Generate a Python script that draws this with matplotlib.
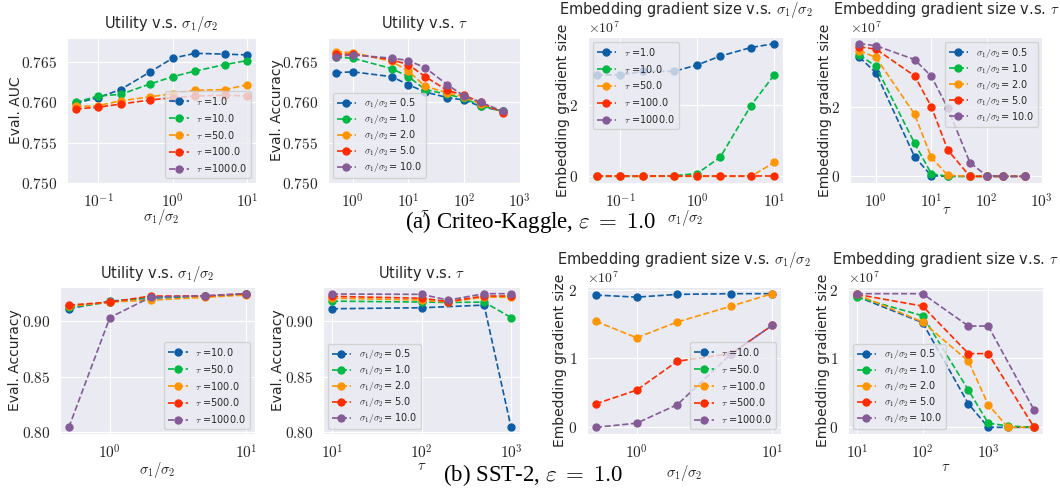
import matplotlib.pyplot as plt
import seaborn as sns

# style: seaborn darkgrid with computer-modern math for the tick labels
sns.set_style('darkgrid')
plt.rcParams['font.family'] = ['DejaVu Sans']
plt.rcParams['mathtext.fontset'] = 'cm'
plt.rcParams['axes.formatter.use_mathtext'] = True

colors = ['#0C5DA5', '#00B945', '#FF9500', '#FF2C00', '#845B97']

# ---------------- Criteo-Kaggle ----------------
criteo_ratio = [0.05, 0.1, 0.2, 0.5, 1, 2, 5, 10]
criteo_tau = [0.5, 1, 5, 10, 20, 50, 100, 200, 500]
criteo_tau_labels = ['1.0', '10.0', '50.0', '100.0', '1000.0']
ratio_labels = ['0.5', '1.0', '2.0', '5.0', '10.0']

# eval AUC vs sigma1/sigma2, one list per tau (tau=1000 not in view)
criteo_auc_tau1 = [0.7599, 0.7606, 0.7616, 0.7638, 0.7655, 0.7661, 0.7660, 0.7659]
criteo_auc_tau10 = [0.7600, 0.7608, 0.7610, 0.7623, 0.7632, 0.7639, 0.7647, 0.7652]
criteo_auc_tau50 = [0.7595, 0.7596, 0.7602, 0.7607, 0.7611, 0.7615, 0.7616, 0.7622]
criteo_auc_tau100 = [0.7592, 0.7594, 0.7598, 0.7603, 0.7606, 0.7608, 0.7609, 0.7608]
criteo_auc_tau1000 = []

# eval accuracy vs tau, one list per sigma1/sigma2
criteo_acc_r05 = [0.7637, 0.7638, 0.7632, 0.7622, 0.7613, 0.7606, 0.7603, 0.7595, 0.7589]
criteo_acc_r1 = [0.7656, 0.7655, 0.7642, 0.7632, 0.7616, 0.7610, 0.7605, 0.7596, 0.7589]
criteo_acc_r2 = [0.7663, 0.7662, 0.7651, 0.7639, 0.7620, 0.7612, 0.7607, 0.7598, 0.7588]
criteo_acc_r5 = [0.7660, 0.7660, 0.7653, 0.7647, 0.7632, 0.7615, 0.7609, 0.7600, 0.7587]
criteo_acc_r10 = [0.7657, 0.7659, 0.7655, 0.7652, 0.7643, 0.7622, 0.7608, 0.7600, 0.7589]

# embedding gradient size vs sigma1/sigma2
criteo_grad_tau1 = [2.85e7, 2.85e7, 2.95e7, 2.95e7, 3.13e7, 3.38e7, 3.62e7, 3.73e7]
criteo_grad_tau10 = [0.0, 0.0, 0.0, 0.02e7, 0.08e7, 0.54e7, 1.99e7, 2.85e7]
criteo_grad_tau50 = [0.0, 0.0, 0.0, 0.0, 0.0, 0.0, 0.0, 0.39e7]
criteo_grad_tau100 = [0.0, 0.0, 0.0, 0.0, 0.0, 0.0, 0.0, 0.0]
criteo_grad_tau1000 = []

# embedding gradient size vs tau
criteo_gt_r05 = [3.45e7, 3.00e7, 0.57e7, 0.02e7, 0.0, 0.0, 0.0, 0.0, 0.0]
criteo_gt_r1 = [3.52e7, 3.18e7, 0.96e7, 0.08e7, 0.0, 0.0, 0.0, 0.0, 0.0]
criteo_gt_r2 = [3.64e7, 3.44e7, 1.80e7, 0.55e7, 0.03e7, 0.0, 0.0, 0.0, 0.0]
criteo_gt_r5 = [3.75e7, 3.68e7, 2.91e7, 2.02e7, 0.76e7, 0.0, 0.0, 0.0, 0.0]
criteo_gt_r10 = [3.84e7, 3.78e7, 3.38e7, 2.90e7, 1.97e7, 0.40e7, 0.02e7, 0.0, 0.0]

# ---------------- SST-2 ----------------
sst_ratio = [0.5, 1, 2, 5, 10]
sst_tau_labels = ['10.0', '50.0', '100.0', '500.0', '1000.0']

sst_acc_tau10 = [0.9115, 0.9184, 0.9211, 0.9227, 0.9248]
sst_acc_tau50 = [0.9127, 0.9175, 0.9220, 0.9227, 0.9245]
sst_acc_tau100 = [0.9136, 0.9175, 0.9193, 0.9218, 0.9239]
sst_acc_tau500 = [0.9148, 0.9175, 0.9230, 0.9230, 0.9251]
sst_acc_tau1000 = [0.8045, 0.9036, 0.9220, 0.9233, 0.9251]

sst_tau_short = [10, 100, 500, 1000]
sst_tau = [10, 100, 200, 500, 1000]
sst_at_r05 = [0.9115, 0.9124, 0.9148, 0.8045]
sst_at_r1 = [0.9184, 0.9175, 0.9172, 0.9175, 0.9036]
sst_at_r2 = [0.9211, 0.9193, 0.9175, 0.9220, 0.9218]
sst_at_r5 = [0.9227, 0.9210, 0.9180, 0.9230, 0.9230]
sst_at_r10 = [0.9248, 0.9245, 0.9193, 0.9251, 0.9251]

sst_grad_tau10 = [1.92e7, 1.89e7, 1.93e7, 1.94e7, 1.94e7]
sst_grad_tau50 = []
sst_grad_tau100 = [1.54e7, 1.30e7, 1.53e7, 1.76e7, 1.94e7]
sst_grad_tau500 = [0.34e7, 0.54e7, 0.96e7, 1.07e7, 1.48e7]
sst_grad_tau1000 = [0.0, 0.06e7, 0.33e7, 1.07e7, 1.48e7]

sst_gtau_full = [10, 100, 500, 1000, 2000, 5000]
sst_gtau_part = [10, 100, 500, 1000, 5000]
sst_gt_r05 = [1.90e7, 1.52e7, 0.34e7, 0.0, 0.0, 0.0]
sst_gt_r1 = [1.89e7, 1.62e7, 0.54e7, 0.06e7, 0.02e7, 0.0]
sst_gt_r2 = [1.93e7, 1.53e7, 0.96e7, 0.33e7, 0.0, 0.0]
sst_gt_r5 = [1.93e7, 1.76e7, 1.07e7, 1.07e7, 0.0]
sst_gt_r10 = [1.94e7, 1.94e7, 1.47e7, 1.47e7, 0.25e7]

# decade ticks for the two tau panels of the top row
tau_ticks = [1, 10, 100, 1000]
tau_tick_labels = [r'$\mathdefault{10^{0}}$', r'$\mathdefault{10^{1}}$',
                   r'$\mathdefault{10^{2}}$', r'$\mathdefault{10^{3}}$']

W, H = 1060, 494
fig = plt.figure(figsize=(W / 100, H / 100), dpi=100)


def make_ax(left, top, right, bottom):
    # pixel box -> figure fraction
    return fig.add_axes([left / W, 1 - bottom / H, (right - left) / W, (bottom - top) / H])


def draw(ax, xs, ys, labels, prefix, loc, title, title_y, xlabel, ylabel, xl_y, yl_x, spacing):
    for x, y, lab, c in zip(xs, ys, labels, colors):
        ax.plot(x, y, 'o--', color=c, label=prefix + lab, markersize=5, linewidth=1.2)
    ax.set_xscale('log')
    ax.set_title(title, fontsize=10.5, y=title_y, pad=0)
    ax.set_xlabel(xlabel, fontsize=10.5)
    ax.set_ylabel(ylabel, fontsize=10)
    ax.xaxis.set_label_coords(0.5, xl_y)
    ax.yaxis.set_label_coords(yl_x, 0.5)
    ax.tick_params(labelsize=11, labelfontfamily='cmr10')
    off = ax.yaxis.get_offset_text()
    off.set_family('cmr10')
    off.set_horizontalalignment('left')
    off.set_x(0.0)
    ax.legend(loc=loc, fontsize=7, labelspacing=spacing)


def tau_axis(ax, lo, hi):
    # decade ticks; the last one (at the right edge) is written through the x-axis text transform
    ax.set_xlim(lo, hi)
    ax.set_xticks(tau_ticks, labels=tau_tick_labels[:-1] + [''])
    pad = plt.rcParams['xtick.major.pad'] + plt.rcParams['xtick.major.size']
    trans, va, ha = ax.get_xaxis_text1_transform(pad)
    ax.text(tau_ticks[-1], 0, tau_tick_labels[-1], transform=trans, va=va, ha=ha,
            fontsize=11, family='cmr10', color=plt.rcParams['xtick.color'], clip_on=False)


tau_pre = r'$\tau$ ='
ratio_pre = r'$\sigma_1/\sigma_2$= '
t_ratio = r'Utility v.s. $\sigma_1/\sigma_2$'
t_tau = r'Utility v.s. $\tau$'
g_ratio = r'Embedding gradient size v.s. $\sigma_1/\sigma_2$'
g_tau = r'Embedding gradient size v.s. $\tau$'
x_ratio = r'$\sigma_1/\sigma_2$'
x_tau = r'$\tau$'

# row 1
ax = make_ax(67, 38, 256, 183)
draw(ax, [criteo_ratio] * 4 + [[]],
     [criteo_auc_tau1, criteo_auc_tau10, criteo_auc_tau50, criteo_auc_tau100, criteo_auc_tau1000],
     criteo_tau_labels, tau_pre, 'lower right', t_ratio, 1.068, x_ratio, 'Eval. AUC',
     -0.166, -0.233, 0.5)
ax.set_ylim(0.750, 0.768)
ax.set_yticks([0.750, 0.755, 0.760, 0.765])

ax = make_ax(328, 38, 521, 183)
draw(ax, [criteo_tau] * 5,
     [criteo_acc_r05, criteo_acc_r1, criteo_acc_r2, criteo_acc_r5, criteo_acc_r10],
     ratio_labels, ratio_pre, 'lower left', t_tau, 1.068, x_tau, 'Eval. Accuracy',
     -0.15, -0.228, 0.2)
ax.set_ylim(0.750, 0.768)
ax.set_yticks([0.750, 0.755, 0.760, 0.765])
tau_axis(ax, 0.36, 1050)

ax = make_ax(588, 37, 783, 183)
draw(ax, [criteo_ratio] * 4 + [[]],
     [criteo_grad_tau1, criteo_grad_tau10, criteo_grad_tau50, criteo_grad_tau100, criteo_grad_tau1000],
     criteo_tau_labels, tau_pre, 'upper left', g_ratio, 1.16, x_ratio, 'Embedding gradient size',
     -0.17, -0.092, 0.5)
ax.set_yticks([0, 2e7])

ax = make_ax(850, 37, 1043, 183)
draw(ax, [criteo_tau] * 5,
     [criteo_gt_r05, criteo_gt_r1, criteo_gt_r2, criteo_gt_r5, criteo_gt_r10],
     ratio_labels, ratio_pre, 'upper right', g_tau, 1.16, x_tau, 'Embedding gradient size',
     -0.13, -0.093, 0.2)
ax.set_yticks([0, 2e7])
tau_axis(ax, 0.34, 1050)

# row 2
ax = make_ax(60, 287, 255, 434)
draw(ax, [sst_ratio] * 5,
     [sst_acc_tau10, sst_acc_tau50, sst_acc_tau100, sst_acc_tau500, sst_acc_tau1000],
     sst_tau_labels, tau_pre, 'lower right', t_ratio, 1.061, x_ratio, 'Eval. Accuracy',
     -0.177, -0.195, 0.5)
ax.set_yticks([0.80, 0.85, 0.90])

ax = make_ax(323, 287, 520, 434)
draw(ax, [sst_tau_short] + [sst_tau] * 4,
     [sst_at_r05, sst_at_r1, sst_at_r2, sst_at_r5, sst_at_r10],
     ratio_labels, ratio_pre, 'lower left', t_tau, 1.061, x_tau, 'Eval. Accuracy',
     -0.163, -0.193, 0.2)
ax.set_yticks([0.80, 0.85, 0.90])

ax = make_ax(587, 287, 781, 434)
draw(ax, [sst_ratio, [], sst_ratio, sst_ratio, sst_ratio],
     [sst_grad_tau10, sst_grad_tau50, sst_grad_tau100, sst_grad_tau500, sst_grad_tau1000],
     sst_tau_labels, tau_pre, 'lower right', g_ratio, 1.155, x_ratio, 'Embedding gradient size',
     -0.2, -0.103, 0.5)
ax.set_yticks([0, 1e7, 2e7])

ax = make_ax(848, 287, 1043, 434)
draw(ax, [sst_gtau_full] * 3 + [sst_gtau_part] * 2,
     [sst_gt_r05, sst_gt_r1, sst_gt_r2, sst_gt_r5, sst_gt_r10],
     ratio_labels, ratio_pre, 'lower left', g_tau, 1.155, x_tau, 'Embedding gradient size',
     -0.17, -0.092, 0.2)
ax.set_yticks([0, 1e7, 2e7])

# captions
fig.text(531 / W, 1 - 222 / H, r'(a) Criteo-Kaggle, $\varepsilon\;=\;\mathsf{1.0}$',
         family='Liberation Serif', fontsize=16.5, ha='center', va='center', color='black')
fig.text(533 / W, 1 - 475 / H, r'(b) SST-2, $\varepsilon\;=\;\mathsf{1.0}$',
         family='Liberation Serif', fontsize=16.5, ha='center', va='center', color='black')

fig.savefig('out.png', dpi=100)
